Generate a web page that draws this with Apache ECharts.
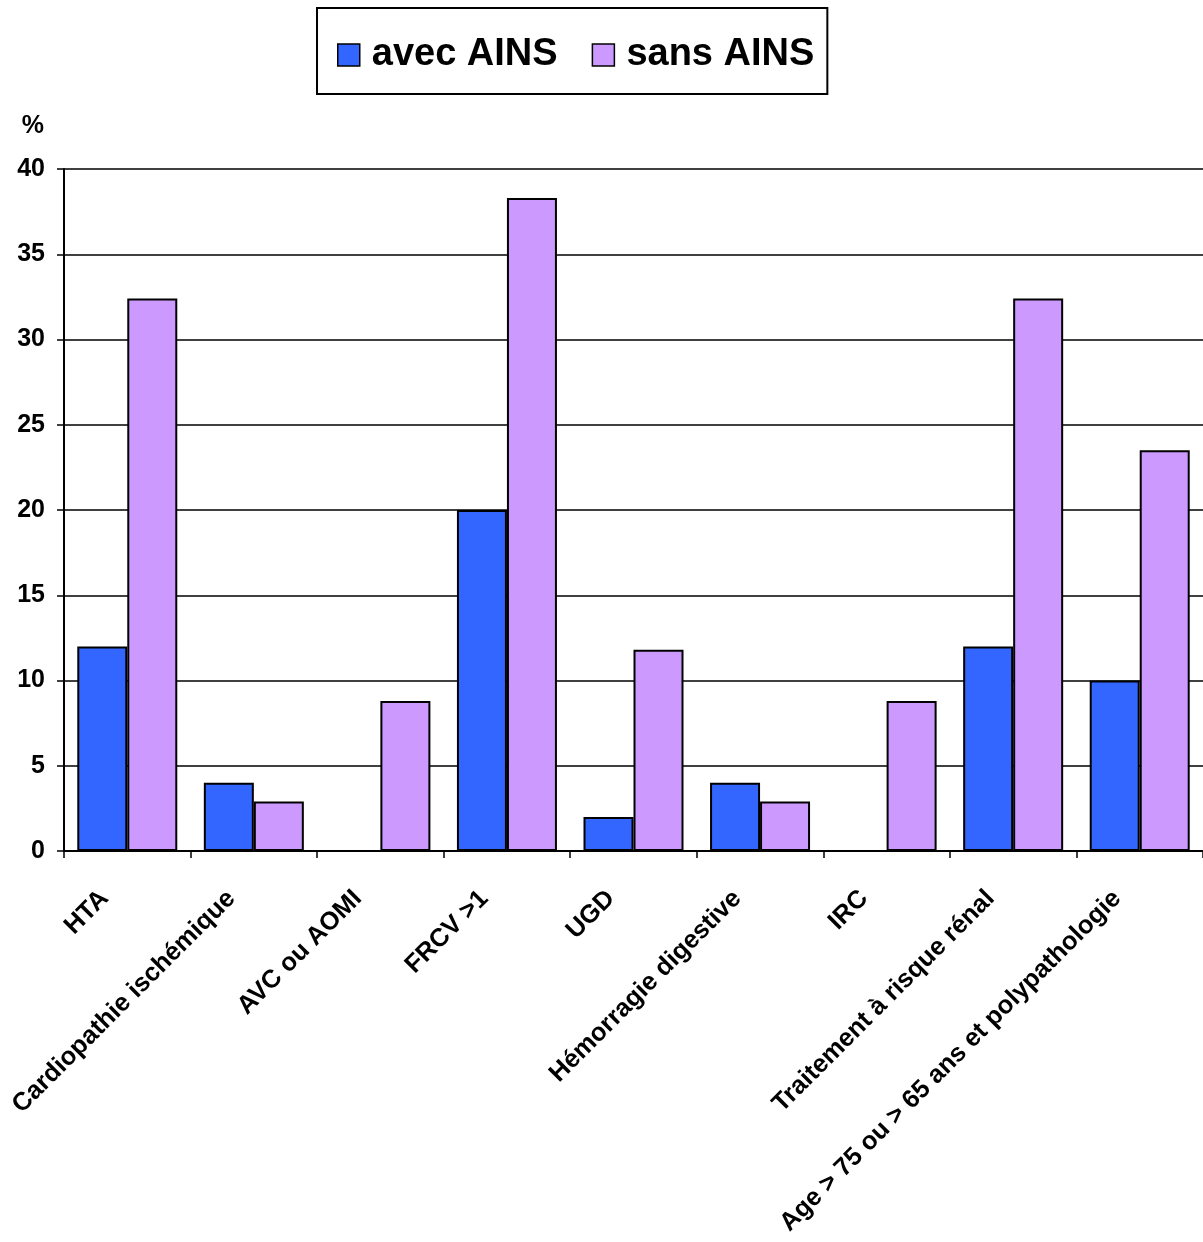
<!DOCTYPE html>
<html>
<head>
<meta charset="utf-8">
<script src="https://cdn.jsdelivr.net/npm/echarts@6/dist/echarts.min.js"></script>
<style>
html,body{margin:0;padding:0;background:#fff;}
#chart{width:1203px;height:1242px;}
</style>
</head>
<body>
<div id="chart"></div>
<script>
const categories = ["HTA", "Cardiopathie ischémique", "AVC ou AOMI", "FRCV >1", "UGD", "Hémorragie digestive", "IRC", "Traitement à risque rénal", "Age > 75 ou > 65 ans et polypathologie"];
const avecAINS = [12, 4, 0, 20, 2, 4, 0, 12, 10];
const sansAINS = [32.4, 2.9, 8.8, 38.3, 11.8, 2.9, 8.8, 32.4, 23.5];
const yTicks = [0, 5, 10, 15, 20, 25, 30, 35, 40];

const FONT = '"Liberation Sans", Arial, sans-serif';
const chart = echarts.init(document.getElementById('chart'), null, {renderer: 'canvas'});
chart.setOption({
  animation: false,
  backgroundColor: '#ffffff',
  textStyle: {fontFamily: FONT},
  legend: {
    left: 317, top: 8,
    padding: [28, 13, 20, 20],
    borderColor: '#000', borderWidth: 2,
    itemWidth: 22, itemHeight: 22, itemGap: 34,
    icon: 'rect',
    textStyle: {fontSize: 38, fontWeight: 'bold', color: '#000', fontFamily: FONT, padding: [0, 0, 0, 7], lineHeight: 38},
    data: [
      {name: 'avec AINS', itemStyle: {borderColor: '#000', borderWidth: 1.5}},
      {name: 'sans AINS', itemStyle: {borderColor: '#000', borderWidth: 1.5}}
    ]
  },
  grid: {left: 64, top: 169, right: -4, bottom: 391, containLabel: false},
  xAxis: {
    type: 'category',
    data: categories,
    axisLine: {lineStyle: {color: '#000', width: 2}},
    axisTick: {show: true, length: 7, lineStyle: {color: '#000', width: 1.5}, alignWithLabel: false},
    axisLabel: {
      interval: 0, rotate: 45, margin: 21,
      padding: [0, 32, 0, 0],
      fontSize: 25.5, fontWeight: 'bold', color: '#000', fontFamily: FONT
    }
  },
  yAxis: {
    type: 'value', min: 0, max: 40, interval: 5,
    name: '%',
    nameLocation: 'end', nameGap: 30,
    nameTextStyle: {fontSize: 25, fontWeight: 'bold', color: '#000', align: 'right', padding: [0, 20, 0, 0], fontFamily: FONT},
    axisLine: {show: true, lineStyle: {color: '#000', width: 2}},
    axisTick: {show: true, length: 7, lineStyle: {color: '#000', width: 1.5}},
    axisLabel: {
      margin: 19, fontSize: 25, fontWeight: 'bold', color: '#000', fontFamily: FONT,
      formatter: v => yTicks.includes(v) ? String(v) : ''
    },
    splitLine: {show: true, lineStyle: {color: '#000', width: 1.5}}
  },
  series: [
    {
      name: 'avec AINS', type: 'bar', data: avecAINS,
      barWidth: 50, barGap: '0%',
      itemStyle: {color: '#3366FF', borderColor: '#000', borderWidth: 2}
    },
    {
      name: 'sans AINS', type: 'bar', data: sansAINS,
      barWidth: 50, barGap: '0%',
      itemStyle: {color: '#CC99FF', borderColor: '#000', borderWidth: 2}
    }
  ]
});
</script>
</body>
</html>
